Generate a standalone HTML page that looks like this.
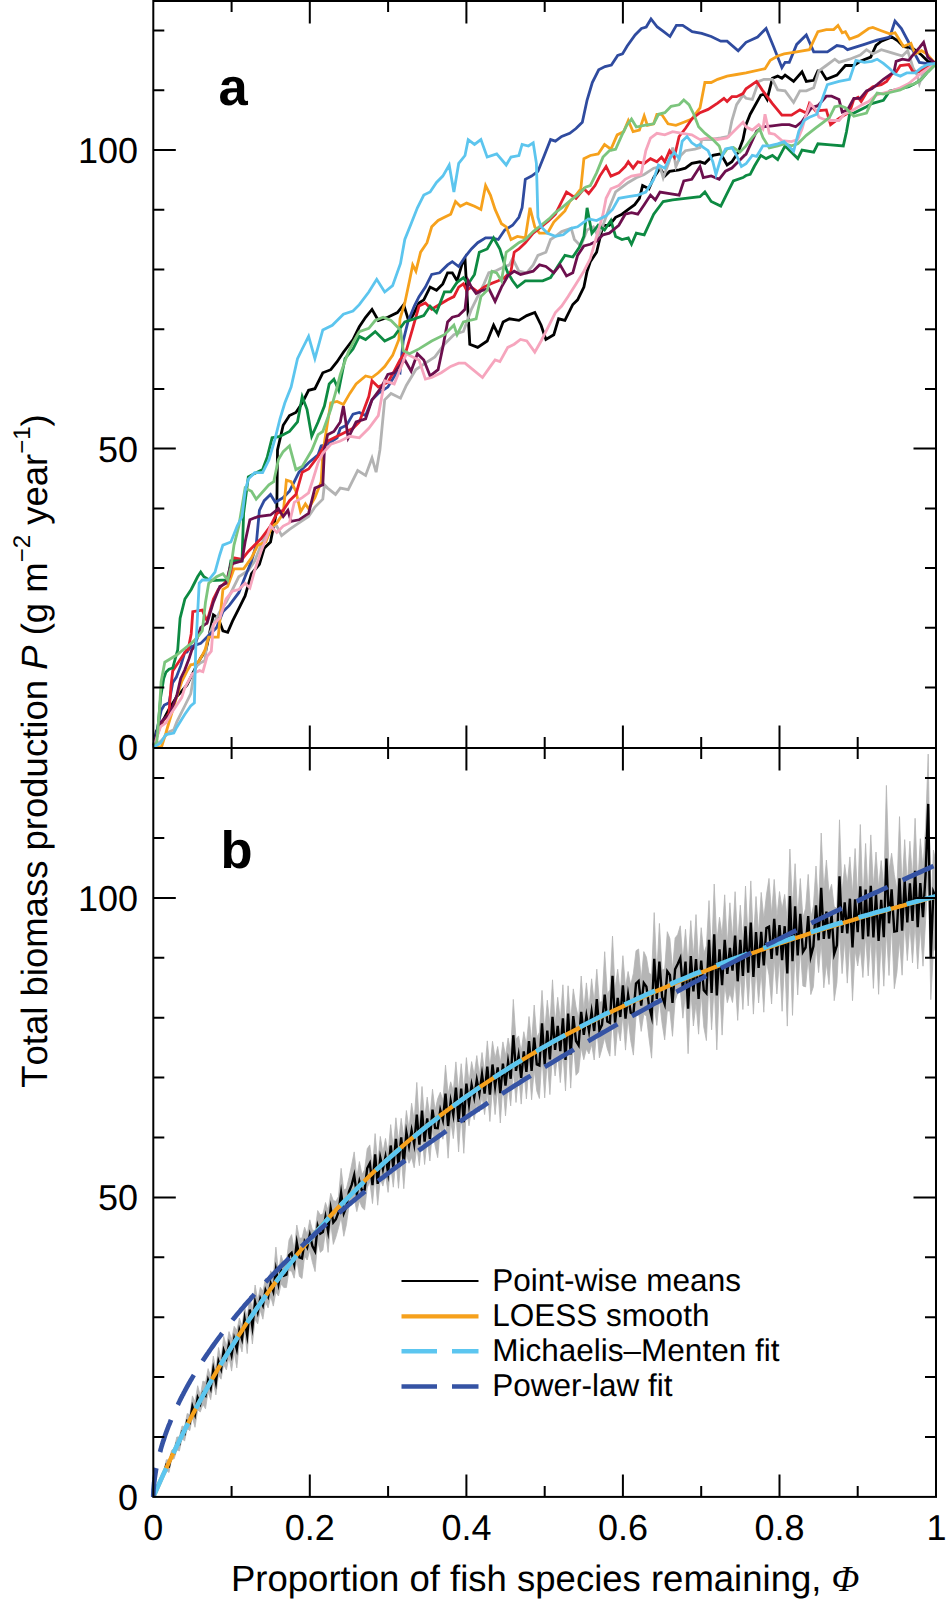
<!DOCTYPE html>
<html lang="en"><head><meta charset="utf-8"><title>Figure</title>
<style>html,body{margin:0;padding:0;background:#fff}body{width:946px;height:1602px;overflow:hidden}</style></head>
<body>
<svg width="946" height="1602" viewBox="0 0 946 1602" style="display:block">
<rect x="0" y="0" width="946" height="1602" fill="#fff"/>
<g id="panel-b-data">
<path d="M153.3,1496.9 L155.9,1488.9 L158.5,1484.1 L161.1,1476.2 L163.7,1471.7 L166.3,1459.7 L169,1459.9 L171.6,1450.2 L174.2,1448.5 L176.8,1437 L179.4,1436.9 L182,1426 L184.6,1426.7 L187.2,1413.5 L189.8,1414.7 L192.4,1395.9 L195,1401.8 L197.7,1385.7 L200.3,1395.5 L202.9,1381 L205.5,1382.3 L208.1,1368.6 L210.7,1376.5 L213.3,1356.1 L215.9,1369.6 L218.5,1347.5 L221.1,1358.4 L223.7,1336.4 L226.4,1346.1 L229,1331.6 L231.6,1339.2 L234.2,1326.3 L236.8,1330.5 L239.4,1318 L242,1326.1 L244.6,1306.9 L247.2,1317.1 L249.8,1296 L252.4,1309.8 L255.1,1285 L257.7,1300.2 L260.3,1287.3 L262.9,1291.2 L265.5,1278.5 L268.1,1285.2 L270.7,1270.8 L273.3,1276.7 L275.9,1247.1 L278.5,1272 L281.1,1255.2 L283.8,1263.8 L286.4,1261.7 L289,1240 L291.6,1234.6 L294.2,1250.1 L296.8,1225 L299.4,1238.2 L302,1238.1 L304.6,1227.2 L307.2,1234.3 L309.8,1219.8 L312.4,1229.9 L315.1,1230.8 L317.7,1210.5 L320.3,1214.9 L322.9,1214 L325.5,1202.5 L328.1,1210.4 L330.7,1193.3 L333.3,1200.5 L335.9,1201.3 L338.5,1196.6 L341.1,1168.3 L343.8,1190.1 L346.4,1188.6 L349,1177.5 L351.6,1165.1 L354.2,1151.9 L356.8,1177 L359.4,1161.5 L362,1174.6 L364.6,1169.8 L367.2,1148.8 L369.8,1144.9 L372.5,1166.8 L375.1,1133.6 L377.7,1162.7 L380.3,1136.4 L382.9,1152.3 L385.5,1138.4 L388.1,1153.1 L390.7,1124.6 L393.3,1148.2 L395.9,1117.8 L398.5,1141.8 L401.2,1118.3 L403.8,1137.8 L406.4,1110.5 L409,1128.9 L411.6,1103.2 L414.2,1120.1 L416.8,1082.4 L419.4,1123.6 L422,1086.5 L424.6,1118.7 L427.2,1097.1 L429.9,1116.8 L432.5,1089.2 L435.1,1110.2 L437.7,1098.6 L440.3,1092.2 L442.9,1100.3 L445.5,1065.1 L448.1,1093.8 L450.7,1081.8 L453.3,1090.9 L455.9,1061.9 L458.6,1091.7 L461.2,1063.7 L463.8,1090.9 L466.4,1057.6 L469,1082.8 L471.6,1061.6 L474.2,1074.9 L476.8,1055.6 L479.4,1074.7 L482,1052.5 L484.6,1072.6 L487.3,1040.9 L489.9,1067.8 L492.5,1041.3 L495.1,1058.3 L497.7,1046.5 L500.3,1063.1 L502.9,1041.9 L505.5,1055.5 L508.1,1038 L510.7,1051.4 L513.3,999.4 L516,1039.2 L518.6,1035.9 L521.2,1051.5 L523.8,1031.7 L526.4,1044.7 L529,1016.5 L531.6,1041.8 L534.2,1005 L536.8,1037.4 L539.4,1032.3 L542,990.4 L544.7,1030.8 L547.3,1000.2 L549.9,1024.2 L552.5,979.8 L555.1,1023.8 L557.7,997.3 L560.3,1019.8 L562.9,984.8 L565.5,1029.1 L568.1,985.8 L570.7,1020.7 L573.3,988.9 L576,1006.7 L578.6,1018.2 L581.2,976 L583.8,1010 L586.4,982.9 L589,1008.4 L591.6,978.8 L594.2,1002 L596.8,969.2 L599.4,1002.3 L602,1001.6 L604.7,951.7 L607.3,994.1 L609.9,989.6 L612.5,936.1 L615.1,989.3 L617.7,969.2 L620.3,992.9 L622.9,955.7 L625.5,987.1 L628.1,971.5 L630.7,985 L633.4,973.2 L636,950.7 L638.6,949 L641.2,979.7 L643.8,951.6 L646.4,957.2 L649,973.1 L651.6,974.8 L654.2,912.6 L656.8,972.3 L659.4,923.4 L662.1,970 L664.7,968.8 L667.3,931.7 L669.9,938.6 L672.5,969.6 L675.1,937.9 L677.7,934.6 L680.3,925.8 L682.9,960.3 L685.5,929.3 L688.1,963.9 L690.8,920.6 L693.4,956.7 L696,914.6 L698.6,963.7 L701.2,927.7 L703.8,953.5 L706.4,945.8 L709,900.6 L711.6,956.2 L714.2,884 L716.8,941.2 L719.5,917.2 L722.1,935.2 L724.7,894.8 L727.3,944.9 L729.9,902.8 L732.5,938.8 L735.1,891.7 L737.7,942.1 L740.3,905.2 L742.9,942.6 L745.5,886 L748.2,939.3 L750.8,880.9 L753.4,939.7 L756,896.5 L758.6,933 L761.2,892.4 L763.8,918.5 L766.4,895.1 L769,878.4 L771.6,914.1 L774.2,879.4 L776.9,917 L779.5,891.5 L782.1,909.1 L784.7,894.4 L787.3,920.8 L789.9,849 L792.5,907.1 L795.1,863.7 L797.7,915.9 L800.3,878.5 L802.9,917.8 L805.6,908.2 L808.2,874.4 L810.8,918 L813.4,906.1 L816,866 L818.6,908 L821.2,833 L823.8,889.9 L826.4,860 L829,892.7 L831.6,884.3 L834.2,906.8 L836.9,908.3 L839.5,819.8 L842.1,892.5 L844.7,864.5 L847.3,883.8 L849.9,856.9 L852.5,894.1 L855.1,848.5 L857.7,898.4 L860.3,824.5 L862.9,901.1 L865.6,843.5 L868.2,897 L870.8,834.9 L873.4,886.7 L876,852 L878.6,887.6 L881.2,860.6 L883.8,887.9 L886.4,785.4 L889,871.2 L891.6,853.2 L894.3,874.5 L896.9,889.6 L899.5,816.6 L902.1,886.5 L904.7,839.6 L907.3,884.4 L909.9,841.2 L912.5,878.9 L915.1,818.3 L917.7,885.7 L920.3,838.7 L923,868.1 L925.6,827 L928.2,754.1 L930.8,915.9 L933.4,850 L936,862 L936,945.8 L933.4,951.8 L930.8,999.7 L928.2,873.9 L925.6,920.7 L923,966.2 L920.3,927.6 L917.7,968.9 L915.1,923.1 L912.5,962.9 L909.9,925.5 L907.3,960.6 L904.7,922.6 L902.1,975.2 L899.5,940.3 L896.9,972.4 L894.3,988.7 L891.6,925.7 L889,975.5 L886.4,931.6 L883.8,986.2 L881.2,939 L878.6,994.3 L876,936.7 L873.4,988.4 L870.8,936.8 L868.2,975.9 L865.6,935.5 L862.9,977.5 L860.3,947.9 L857.7,966 L855.1,950.3 L852.5,1000.7 L849.9,940.5 L847.3,983.1 L844.7,940.1 L842.1,973.6 L839.5,932.9 L836.9,982.5 L834.2,1000.7 L831.6,945.7 L829,984.5 L826.4,963.3 L823.8,987.8 L821.2,942.3 L818.6,972.6 L816,944.7 L813.4,986.7 L810.8,994.6 L808.2,957.8 L805.6,986.9 L802.9,986 L800.3,949.1 L797.7,995 L795.1,949.2 L792.5,1015.4 L789.9,942.9 L787.3,1026.1 L784.7,958 L782.1,1011.3 L779.5,959 L776.9,994 L774.2,958.5 L771.6,1004 L769,975.1 L766.4,960.9 L763.8,1012.2 L761.2,971.2 L758.6,1003 L756,967.5 L753.4,1014.1 L750.8,964.3 L748.2,1005.9 L745.5,966.7 L742.9,1009.5 L740.3,974.5 L737.7,1020.4 L735.1,979.5 L732.5,1002.5 L729.9,993 L727.3,1002.7 L724.7,984.7 L722.1,1035.1 L719.5,981.6 L716.8,1049.9 L714.2,984.8 L711.6,1029.8 L709,978.7 L706.4,1040.6 L703.8,1027.1 L701.2,993.3 L698.6,1034.2 L696,1003.6 L693.4,1026 L690.8,991.3 L688.1,1053.7 L685.5,993.7 L682.9,1018.2 L680.3,990.1 L677.7,993.3 L675.1,1000.7 L672.5,1036.3 L669.9,1011.1 L667.3,1010.9 L664.7,1039.9 L662.1,1023.6 L659.4,999.9 L656.8,1025.4 L654.2,1005.3 L651.6,1058.2 L649,1038.4 L646.4,1015.9 L643.8,1014.3 L641.2,1031.4 L638.6,1013 L636,1016.3 L633.4,1055.1 L630.7,1040.4 L628.1,1018.2 L625.5,1050.1 L622.9,1015.2 L620.3,1041 L617.7,1026.7 L615.1,1055.8 L612.5,1015.7 L609.9,1056.2 L607.3,1048.9 L604.7,1037.6 L602,1048.5 L599.4,1057.9 L596.8,1029 L594.2,1060 L591.6,1044.6 L589,1053.9 L586.4,1048.9 L583.8,1059.7 L581.2,1047.8 L578.6,1072.1 L576,1075.3 L573.3,1043.4 L570.7,1088.1 L568.1,1041.4 L565.5,1090.9 L562.9,1052 L560.3,1082.6 L557.7,1054.3 L555.1,1076 L552.5,1054.1 L549.9,1094.6 L547.3,1060.8 L544.7,1097.9 L542,1056.3 L539.4,1098.5 L536.8,1091.1 L534.2,1070.1 L531.6,1099.8 L529,1065.6 L526.4,1098.9 L523.8,1071.1 L521.2,1104.1 L518.6,1074.7 L516,1102.5 L513.3,1070.9 L510.7,1105.9 L508.1,1085.7 L505.5,1115.9 L502.9,1085.3 L500.3,1123 L497.7,1088.2 L495.1,1114.6 L492.5,1087.6 L489.9,1121.5 L487.3,1092.6 L484.6,1114.6 L482,1096.2 L479.4,1112 L476.8,1104 L474.2,1119.7 L471.6,1108 L469,1125.8 L466.4,1109.7 L463.8,1153.3 L461.2,1113.5 L458.6,1151.9 L455.9,1113.3 L453.3,1138.6 L450.7,1120.7 L448.1,1158.2 L445.5,1122.3 L442.9,1139.2 L440.3,1128 L437.7,1157.7 L435.1,1145.8 L432.5,1129.9 L429.9,1161 L427.2,1139.8 L424.6,1164.5 L422,1134.8 L419.4,1165.7 L416.8,1147.1 L414.2,1167.8 L411.6,1157.4 L409,1163.3 L406.4,1154.4 L403.8,1188.7 L401.2,1156.6 L398.5,1188.3 L395.9,1160 L393.3,1187.2 L390.7,1166.3 L388.1,1192.4 L385.5,1174.8 L382.9,1186.1 L380.3,1179 L377.7,1205.2 L375.1,1175.3 L372.5,1203.6 L369.8,1181.7 L367.2,1187.9 L364.6,1209.9 L362,1207.4 L359.4,1200.8 L356.8,1211.6 L354.2,1198.6 L351.6,1205.1 L349,1205.7 L346.4,1224.8 L343.8,1236.3 L341.1,1217.4 L338.5,1227.8 L335.9,1237.1 L333.3,1244.4 L330.7,1223 L328.1,1252.4 L325.5,1231.3 L322.9,1250.1 L320.3,1252.4 L317.7,1241.1 L315.1,1271.6 L312.4,1262.3 L309.8,1250.1 L307.2,1260 L304.6,1256.2 L302,1278.6 L299.4,1276.4 L296.8,1260.2 L294.2,1278.2 L291.6,1271.2 L289,1270.5 L286.4,1287.5 L283.8,1287.6 L281.1,1283.8 L278.5,1296 L275.9,1292.2 L273.3,1306.1 L270.7,1296.5 L268.1,1307.9 L265.5,1302 L262.9,1319.2 L260.3,1310.2 L257.7,1323.9 L255.1,1319.4 L252.4,1344 L249.8,1323 L247.2,1353.6 L244.6,1331.1 L242,1352 L239.4,1342.3 L236.8,1367.9 L234.2,1351.7 L231.6,1371.1 L229,1357 L226.4,1369.9 L223.7,1364.6 L221.1,1379.2 L218.5,1375.1 L215.9,1394.9 L213.3,1382.2 L210.7,1399.7 L208.1,1391.9 L205.5,1408.8 L202.9,1404.5 L200.3,1412 L197.7,1409.9 L195,1427.3 L192.4,1417.3 L189.8,1430.7 L187.2,1428.4 L184.6,1441.1 L182,1438.5 L179.4,1451 L176.8,1449.9 L174.2,1458.8 L171.6,1459.4 L169,1472.6 L166.3,1470.3 L163.7,1477.2 L161.1,1480.5 L158.5,1487.2 L155.9,1491.6 L153.3,1496.9Z" fill="#b5b5b5" stroke="#b5b5b5" stroke-width="0.8" stroke-linejoin="miter"/>
<polyline fill="none" stroke="#000" stroke-width="2.4" stroke-linejoin="miter" stroke-miterlimit="8" points="153.3,1496.9 155.9,1490.2 158.5,1485.6 161.1,1478.4 163.7,1474.4 166.3,1465 169,1466.2 171.6,1454.8 174.2,1453.6 176.8,1443.5 179.4,1444 182,1432.2 184.6,1433.9 187.2,1421 189.8,1422.7 192.4,1406.6 195,1414.5 197.7,1397.8 200.3,1403.8 202.9,1392.8 205.5,1395.5 208.1,1380.2 210.7,1388.1 213.3,1369.2 215.9,1382.3 218.5,1361.3 221.1,1368.8 223.7,1350.5 226.4,1358 229,1344.3 231.6,1355.2 234.2,1339 236.8,1349.2 239.4,1330.2 242,1339 244.6,1319 247.2,1335.4 249.8,1309.5 252.4,1326.9 255.1,1302.2 257.7,1312.1 260.3,1298.8 262.9,1305.2 265.5,1290.3 268.1,1296.5 270.7,1283.7 273.3,1291.4 275.9,1269.6 278.5,1284 281.1,1269.5 283.8,1275.7 286.4,1274.6 289,1255.3 291.6,1252.9 294.2,1264.1 296.8,1242.6 299.4,1257.3 302,1258.4 304.6,1241.7 307.2,1247.2 309.8,1234.9 312.4,1246.1 315.1,1251.2 317.7,1225.8 320.3,1233.6 322.9,1232 325.5,1216.9 328.1,1231.4 330.7,1208.2 333.3,1222.4 335.9,1219.2 338.5,1212.2 341.1,1192.9 343.8,1213.2 346.4,1206.7 349,1191.6 351.6,1185.1 354.2,1175.2 356.8,1194.3 359.4,1181.2 362,1191 364.6,1189.9 367.2,1168.3 369.8,1163.3 372.5,1185.2 375.1,1154.4 377.7,1184 380.3,1157.7 382.9,1169.2 385.5,1156.6 388.1,1172.8 390.7,1145.5 393.3,1167.7 395.9,1138.9 398.5,1165.1 401.2,1137.4 403.8,1163.3 406.4,1132.4 409,1146.1 411.6,1130.3 414.2,1144 416.8,1114.7 419.4,1144.7 422,1110.6 424.6,1141.6 427.2,1118.4 429.9,1138.9 432.5,1109.6 435.1,1128 437.7,1128.2 440.3,1110.1 442.9,1119.8 445.5,1093.7 448.1,1126 450.7,1101.2 453.3,1114.8 455.9,1087.6 458.6,1121.8 461.2,1088.6 463.8,1122.1 466.4,1083.7 469,1104.3 471.6,1084.8 474.2,1097.3 476.8,1079.8 479.4,1093.3 482,1074.3 484.6,1093.6 487.3,1066.7 489.9,1094.6 492.5,1064.5 495.1,1086.4 497.7,1067.3 500.3,1093.1 502.9,1063.6 505.5,1085.7 508.1,1061.8 510.7,1078.7 513.3,1035.2 516,1070.8 518.6,1055.3 521.2,1077.8 523.8,1051.4 526.4,1071.8 529,1041 531.6,1070.8 534.2,1037.5 536.8,1064.3 539.4,1065.4 542,1023.4 544.7,1064.3 547.3,1030.5 549.9,1059.4 552.5,1016.9 555.1,1049.9 557.7,1025.8 560.3,1051.2 562.9,1018.4 565.5,1060 568.1,1013.6 570.7,1054.4 573.3,1016.1 576,1041 578.6,1045.2 581.2,1011.9 583.8,1034.9 586.4,1015.9 589,1031.1 591.6,1011.7 594.2,1031 596.8,999.1 599.4,1030.1 602,1025 604.7,994.7 607.3,1021.5 609.9,1022.9 612.5,975.9 615.1,1022.6 617.7,998 620.3,1017 622.9,985.4 625.5,1018.6 628.1,994.9 630.7,1012.7 633.4,1014.2 636,983.5 638.6,981 641.2,1005.5 643.8,983 646.4,986.6 649,1005.7 651.6,1016.5 654.2,958.9 656.8,998.9 659.4,961.6 662.1,996.8 664.7,1004.3 667.3,971.3 669.9,974.9 672.5,1003 675.1,969.3 677.7,963.9 680.3,958 682.9,989.2 685.5,961.5 688.1,1008.8 690.8,956 693.4,991.3 696,959.1 698.6,998.9 701.2,960.5 703.8,990.3 706.4,993.2 709,939.7 711.6,993 714.2,934.4 716.8,995.5 719.5,949.4 722.1,985.1 724.7,939.8 727.3,973.8 729.9,947.9 732.5,970.7 735.1,935.6 737.7,981.3 740.3,939.9 742.9,976 745.5,926.4 748.2,972.6 750.8,922.6 753.4,976.9 756,932 758.6,968 761.2,931.8 763.8,965.4 766.4,928 769,926.7 771.6,959 774.2,918.9 776.9,955.5 779.5,925.2 782.1,960.2 784.7,926.2 787.3,973.4 789.9,896 792.5,961.3 795.1,906.4 797.7,955.5 800.3,913.8 802.9,951.9 805.6,947.5 808.2,916.1 810.8,956.3 813.4,946.4 816,905.4 818.6,940.3 821.2,887.7 823.8,938.9 826.4,911.6 829,938.6 831.6,915 834.2,953.8 836.9,945.4 839.5,876.3 842.1,933 844.7,902.3 847.3,933.5 849.9,898.7 852.5,947.4 855.1,899.4 857.7,932.2 860.3,886.2 862.9,939.3 865.6,889.5 868.2,936.4 870.8,885.9 873.4,937.5 876,894.4 878.6,940.9 881.2,899.8 883.8,937.1 886.4,858.5 889,923.3 891.6,889.4 894.3,931.6 896.9,931 899.5,878.4 902.1,930.8 904.7,881.1 907.3,922.5 909.9,883.3 912.5,920.9 915.1,870.7 917.7,927.3 920.3,883.1 923,917.1 925.6,873.9 928.2,803.9 930.8,957.8 933.4,891.9 936,897.9"/>
<polyline fill="none" stroke="#f6a11c" stroke-width="4.2" points="153.3,1496.9 158.2,1485.8 163.1,1474.9 168,1464.3 172.9,1454 177.8,1443.9 182.7,1434 187.5,1424.4 192.4,1415 197.3,1405.8 202.2,1396.8 207.1,1388 212,1379.3 216.9,1370.9 221.8,1362.7 226.7,1354.6 231.6,1346.7 236.5,1338.9 241.4,1331.3 246.2,1323.9 251.1,1316.6 256,1309.5 260.9,1302.5 265.8,1295.6 270.7,1288.8 275.6,1282.2 280.5,1275.7 285.4,1269.4 290.3,1263.1 295.2,1257 300.1,1251 304.9,1245.1 309.8,1239.3 314.7,1233.6 319.6,1228 324.5,1222.5 329.4,1217 334.3,1211.7 339.2,1206.5 344.1,1201.4 349,1196.3 353.9,1191.3 358.8,1186.5 363.7,1181.7 368.5,1176.9 373.4,1172.3 378.3,1167.7 383.2,1163.2 388.1,1158.8 393,1154.4 397.9,1150.1 402.8,1145.9 407.7,1141.7 412.6,1137.6 417.5,1133.6 422.4,1129.6 427.2,1125.7 432.1,1121.8 437,1118 441.9,1114.3 446.8,1110.6 451.7,1107 456.6,1103.4 461.5,1099.9 466.4,1096.4 471.3,1092.9 476.2,1089.6 481.1,1086.2 485.9,1082.9 490.8,1079.7 495.7,1076.5 500.6,1073.3 505.5,1070.2 510.4,1067.1 515.3,1064.1 520.2,1061.1 525.1,1058.2 530,1055.3 534.9,1052.4 539.8,1049.5 544.7,1046.7 549.5,1044 554.4,1041.2 559.3,1038.5 564.2,1035.9 569.1,1033.2 574,1030.6 578.9,1028.1 583.8,1025.5 588.7,1023 593.6,1020.6 598.5,1018.1 603.4,1015.7 608.2,1013.3 613.1,1010.9 618,1008.6 622.9,1006.3 627.8,1004 632.7,1001.7 637.6,999.5 642.5,997.3 647.4,995.1 652.3,992.9 657.2,990.8 662.1,988.7 666.9,986.6 671.8,984.5 676.7,982.5 681.6,980.4 686.5,978.4 691.4,976.4 696.3,974.4 701.2,972.5 706.1,970.6 711,968.6 715.9,966.7 720.8,964.9 725.6,963 730.5,961.2 735.4,959.3 740.3,957.5 745.2,955.7 750.1,953.9 755,952.2 759.9,950.4 764.8,948.7 769.7,947 774.6,945.3 779.5,943.6 784.4,941.9 789.2,940.3 794.1,938.6 799,937 803.9,935.4 808.8,933.8 813.7,932.2 818.6,930.6 823.5,929.1 828.4,927.5 833.3,926 838.2,924.5 843.1,923 847.9,921.5 852.8,920 857.7,918.5 862.6,917.1 867.5,915.6 872.4,914.2 877.3,912.8 882.2,911.4 887.1,910 892,908.6 896.9,907.2 901.8,905.9 906.6,904.5 911.5,903.2 916.4,901.9 921.3,900.6 926.2,899.3 931.1,898 936,896.7"/>
<polyline fill="none" stroke="#5cc6f0" stroke-width="4.7" stroke-dasharray="33.5 16.5" stroke-dashoffset="2" points="153.3,1496.9 158.2,1485.8 163.1,1474.9 168,1464.3 172.9,1454 177.8,1443.9 182.7,1434 187.5,1424.4 192.4,1415 197.3,1405.8 202.2,1396.8 207.1,1388 212,1379.4 216.9,1371 221.8,1362.7 226.7,1354.7 231.6,1346.8 236.5,1339 241.4,1331.4 246.2,1324 251.1,1316.7 256,1309.6 260.9,1302.6 265.8,1295.7 270.7,1289 275.6,1282.4 280.5,1275.9 285.4,1269.6 290.3,1263.3 295.2,1257.2 300.1,1251.2 304.9,1245.3 309.8,1239.5 314.7,1233.8 319.6,1228.2 324.5,1222.7 329.4,1217.3 334.3,1212 339.2,1206.8 344.1,1201.6 349,1196.6 353.9,1191.6 358.8,1186.8 363.7,1182 368.5,1177.2 373.4,1172.6 378.3,1168 383.2,1163.5 388.1,1159.1 393,1154.7 397.9,1150.4 402.8,1146.2 407.7,1142 412.6,1137.9 417.5,1133.9 422.4,1129.9 427.2,1125.9 432.1,1122.1 437,1118.3 441.9,1114.5 446.8,1110.8 451.7,1107.2 456.6,1103.6 461.5,1100 466.4,1096.5 471.3,1093.1 476.2,1089.6 481.1,1086.3 485.9,1083 490.8,1079.7 495.7,1076.5 500.6,1073.3 505.5,1070.2 510.4,1067.1 515.3,1064 520.2,1061 525.1,1058 530,1055.1 534.9,1052.2 539.8,1049.3 544.7,1046.5 549.5,1043.7 554.4,1040.9 559.3,1038.2 564.2,1035.5 569.1,1032.8 574,1030.2 578.9,1027.6 583.8,1025 588.7,1022.5 593.6,1020 598.5,1017.5 603.4,1015 608.2,1012.6 613.1,1010.2 618,1007.8 622.9,1005.5 627.8,1003.2 632.7,1000.9 637.6,998.6 642.5,996.4 647.4,994.2 652.3,992 657.2,989.8 662.1,987.7 666.9,985.6 671.8,983.5 676.7,981.4 681.6,979.4 686.5,977.3 691.4,975.3 696.3,973.3 701.2,971.4 706.1,969.4 711,967.5 715.9,965.6 720.8,963.7 725.6,961.9 730.5,960 735.4,958.2 740.3,956.4 745.2,954.6 750.1,952.8 755,951 759.9,949.3 764.8,947.6 769.7,945.9 774.6,944.2 779.5,942.5 784.4,940.8 789.2,939.2 794.1,937.6 799,936 803.9,934.4 808.8,932.8 813.7,931.2 818.6,929.7 823.5,928.1 828.4,926.6 833.3,925.1 838.2,923.6 843.1,922.1 847.9,920.7 852.8,919.2 857.7,917.8 862.6,916.3 867.5,914.9 872.4,913.5 877.3,912.1 882.2,910.7 887.1,909.4 892,908 896.9,906.7 901.8,905.3 906.6,904 911.5,902.7 916.4,901.4 921.3,900.1 926.2,898.8 931.1,897.6 936,896.3"/>
<polyline fill="none" stroke="#3553a4" stroke-width="4.7" stroke-dasharray="34 16.5" stroke-dashoffset="5" points="153.3,1496.9 153.3,1496.1 153.3,1495.2 153.3,1494.2 153.4,1493.1 153.4,1492.1 153.5,1491 153.5,1489.9 153.6,1488.7 153.7,1487.6 153.8,1486.4 153.9,1485.3 154,1484.1 154.1,1482.9 154.3,1481.7 154.4,1480.5 154.6,1479.3 154.7,1478 154.9,1476.8 155.1,1475.6 155.3,1474.3 155.5,1473 155.7,1471.8 155.9,1470.5 156.1,1469.2 156.4,1467.9 156.6,1466.7 156.9,1465.4 157.1,1464.1 157.4,1462.8 157.7,1461.4 158,1460.1 158.3,1458.8 158.6,1457.5 159,1456.1 159.3,1454.8 159.6,1453.5 160,1452.1 160.4,1450.8 160.7,1449.4 161.1,1448.1 161.5,1446.7 161.9,1445.3 162.3,1444 162.8,1442.6 163.2,1441.2 163.7,1439.9 164.1,1438.5 164.6,1437.1 165,1435.7 165.5,1434.3 166,1432.9 166.5,1431.5 167,1430.1 167.6,1428.7 168.1,1427.3 168.6,1425.9 169.2,1424.5 169.8,1423.1 170.3,1421.7 170.9,1420.3 171.5,1418.8 172.1,1417.4 172.7,1416 173.3,1414.6 174,1413.1 174.6,1411.7 175.3,1410.2 175.9,1408.8 176.6,1407.4 177.3,1405.9 178,1404.5 178.7,1403 179.4,1401.6 180.1,1400.1 180.8,1398.7 181.6,1397.2 182.3,1395.7 183.1,1394.3 183.8,1392.8 184.6,1391.4 185.4,1389.9 186.2,1388.4 187,1386.9 187.8,1385.5 188.6,1384 189.5,1382.5 190.3,1381 191.2,1379.6 192,1378.1 192.9,1376.6 193.8,1375.1 194.7,1373.6 195.6,1372.1 196.5,1370.6 197.4,1369.1 198.4,1367.6 199.3,1366.1 200.3,1364.6 201.2,1363.1 202.2,1361.6 203.2,1360.1 204.2,1358.6 205.2,1357.1 206.2,1355.6 207.2,1354.1 208.3,1352.6 209.3,1351.1 210.4,1349.5 211.4,1348 212.5,1346.5 213.6,1345 214.7,1343.5 215.8,1341.9 216.9,1340.4 218,1338.9 219.1,1337.4 220.3,1335.8 221.4,1334.3 222.6,1332.8 223.7,1331.2 224.9,1329.7 226.1,1328.2 227.3,1326.6 228.5,1325.1 229.7,1323.5 231,1322 232.2,1320.5 233.4,1318.9 234.7,1317.4 236,1315.8 237.2,1314.3 238.5,1312.7 239.8,1311.2 241.1,1309.6 242.5,1308 243.8,1306.5 245.1,1304.9 246.5,1303.4 247.8,1301.8 249.2,1300.3 250.6,1298.7 251.9,1297.1 253.3,1295.6 254.7,1294 256.2,1292.4 257.6,1290.9 259,1289.3 260.5,1287.7 261.9,1286.1 263.4,1284.6 264.8,1283 266.3,1281.4 267.8,1279.8 269.3,1278.3 270.8,1276.7 272.3,1275.1 273.9,1273.5 275.4,1271.9 277,1270.4 278.5,1268.8 280.1,1267.2 281.7,1265.6 283.3,1264 284.9,1262.4 286.5,1260.8 288.1,1259.2 289.7,1257.7 291.4,1256.1 293,1254.5 294.7,1252.9 296.3,1251.3 298,1249.7 299.7,1248.1 301.4,1246.5 303.1,1244.9 304.8,1243.3 306.6,1241.7 308.3,1240.1 310,1238.5 311.8,1236.9 313.6,1235.2 315.3,1233.6 317.1,1232 318.9,1230.4 320.7,1228.8 322.5,1227.2 324.4,1225.6 326.2,1224 328,1222.4 329.9,1220.7 331.8,1219.1 333.6,1217.5 335.5,1215.9 337.4,1214.3 339.3,1212.6 341.2,1211 343.1,1209.4 345.1,1207.8 347,1206.2 349,1204.5 350.9,1202.9 352.9,1201.3 354.9,1199.6 356.9,1198 358.9,1196.4 360.9,1194.8 362.9,1193.1 364.9,1191.5 367,1189.9 369,1188.2 371.1,1186.6 373.2,1185 375.2,1183.3 377.3,1181.7 379.4,1180 381.5,1178.4 383.7,1176.8 385.8,1175.1 387.9,1173.5 390.1,1171.8 392.2,1170.2 394.4,1168.6 396.6,1166.9 398.8,1165.3 401,1163.6 403.2,1162 405.4,1160.3 407.6,1158.7 409.8,1157 412.1,1155.4 414.3,1153.7 416.6,1152.1 418.9,1150.4 421.2,1148.8 423.5,1147.1 425.8,1145.4 428.1,1143.8 430.4,1142.1 432.7,1140.5 435.1,1138.8 437.4,1137.2 439.8,1135.5 442.2,1133.8 444.5,1132.2 446.9,1130.5 449.3,1128.8 451.7,1127.2 454.2,1125.5 456.6,1123.9 459,1122.2 461.5,1120.5 464,1118.9 466.4,1117.2 468.9,1115.5 471.4,1113.8 473.9,1112.2 476.4,1110.5 478.9,1108.8 481.5,1107.2 484,1105.5 486.5,1103.8 489.1,1102.1 491.7,1100.5 494.2,1098.8 496.8,1097.1 499.4,1095.4 502,1093.7 504.7,1092.1 507.3,1090.4 509.9,1088.7 512.6,1087 515.2,1085.3 517.9,1083.7 520.6,1082 523.2,1080.3 525.9,1078.6 528.6,1076.9 531.4,1075.2 534.1,1073.5 536.8,1071.9 539.6,1070.2 542.3,1068.5 545.1,1066.8 547.9,1065.1 550.6,1063.4 553.4,1061.7 556.2,1060 559.1,1058.3 561.9,1056.6 564.7,1054.9 567.5,1053.3 570.4,1051.6 573.3,1049.9 576.1,1048.2 579,1046.5 581.9,1044.8 584.8,1043.1 587.7,1041.4 590.6,1039.7 593.6,1038 596.5,1036.3 599.5,1034.6 602.4,1032.9 605.4,1031.2 608.4,1029.5 611.4,1027.8 614.4,1026 617.4,1024.3 620.4,1022.6 623.4,1020.9 626.4,1019.2 629.5,1017.5 632.6,1015.8 635.6,1014.1 638.7,1012.4 641.8,1010.7 644.9,1009 648,1007.2 651.1,1005.5 654.2,1003.8 657.4,1002.1 660.5,1000.4 663.7,998.7 666.8,997 670,995.2 673.2,993.5 676.4,991.8 679.6,990.1 682.8,988.4 686,986.7 689.3,984.9 692.5,983.2 695.8,981.5 699,979.8 702.3,978.1 705.6,976.3 708.9,974.6 712.2,972.9 715.5,971.2 718.8,969.4 722.1,967.7 725.5,966 728.8,964.3 732.2,962.5 735.6,960.8 738.9,959.1 742.3,957.3 745.7,955.6 749.1,953.9 752.6,952.2 756,950.4 759.4,948.7 762.9,947 766.3,945.2 769.8,943.5 773.3,941.8 776.8,940 780.3,938.3 783.8,936.6 787.3,934.8 790.8,933.1 794.4,931.3 797.9,929.6 801.5,927.9 805,926.1 808.6,924.4 812.2,922.7 815.8,920.9 819.4,919.2 823,917.4 826.6,915.7 830.3,913.9 833.9,912.2 837.6,910.5 841.2,908.7 844.9,907 848.6,905.2 852.3,903.5 856,901.7 859.7,900 863.4,898.2 867.1,896.5 870.9,894.7 874.6,893 878.4,891.3 882.2,889.5 886,887.8 889.7,886 893.5,884.2 897.4,882.5 901.2,880.7 905,879 908.8,877.2 912.7,875.5 916.6,873.7 920.4,872 924.3,870.2 928.2,868.5 932.1,866.7 936,865"/>
</g>
<g id="panel-a-data" fill="none" stroke-width="2.8" stroke-linejoin="miter">
<polyline stroke="#000000" points="153.4,747.3 156.3,731.4 161.2,724 169,709.2 176.8,696.5 180.7,692.3 187,684.9 191.2,676.4 196.5,665.9 200.7,657.9 206,650 213.4,614.9 218.2,618.1 222.9,630.8 227.7,632.3 232.5,621.2 238.8,608.6 245.1,595.9 251.5,573.7 259.4,564.2 264.2,548.3 270.5,542 276.8,510.3 277.5,450 283.2,425.2 289.5,415.6 295.9,412.5 302.2,403 308.6,390.3 314.9,388.7 322.8,372.8 330.8,369.7 337.1,361.7 343.4,352.2 353,339.5 359.3,326.8 365.6,317.3 372,309.4 378.3,320.5 387.8,317.3 397.4,312.6 403.7,304.7 408.5,320.5 412.7,315.6 419,303 423.8,299.8 430.1,287.1 436.5,290.3 442.8,283.9 447.6,272.8 452.3,272.8 457.1,280.8 461.8,264.9 465,258.6 468.2,315.6 469.8,344.2 477.7,347.4 487.2,341 493.6,325.2 498.3,334.7 503.1,322 509.4,318.8 518.9,320.4 526.8,315.6 534.8,312.5 541.1,325.2 545.9,339.4 553.8,334.7 558.6,318.8 564.9,320.4 572.8,304.5 577.6,299.8 583.9,287.1 587.1,271.2 590.3,261.7 596.6,252.2 603,225.3 609.3,225.3 615.6,217.3 622,214.2 628.3,209.4 634.7,204.7 639.4,198.3 642.6,185.6 648.9,188.8 653.7,177.7 660,168.2 664.8,176.1 669.6,171.4 679.1,169.8 685.4,168.2 691.8,163.4 700,161.8 704.9,163.3 712.8,155.4 720.8,153.8 727.1,164.9 731.9,161.7 738.2,152.2 743,139.5 746,124.7 750.2,114.2 760.8,95.1 764,94.1 767.1,99.4 772.4,78.2 777.7,76.1 781.9,78.2 785.1,75.1 793.6,81.4 802,71.9 806.3,81.4 813.7,80.3 817.9,70.8 821.1,70.8 826.3,79.3 836.9,75.1 845.4,65.5 853.8,65.5 860.2,61.3 870.7,57.1 876,45.5 881.3,41.2 891.9,37 898.2,41.2 903.5,46.5 913,48.6 921.5,55 927.8,61.3 935.2,63.4"/>
<polyline stroke="#b3b3b3" points="153.4,747.3 161.2,740.9 169,731.9 173.8,729.8 176.8,721.9 184.7,706 190.7,693.9 192.8,681.7 195.5,666.9 200.7,662.7 205,660.6 207.1,640.3 213.4,624.4 219.8,611.7 226.1,602.2 232.5,589.5 238.8,576.8 248.3,570.5 254.7,561 261,545.1 270.5,526.1 276.8,526.1 281.6,535.6 289.5,529.3 299,522.9 308.6,516.6 314.9,507.1 322.8,499.2 324.4,484.9 327.6,488.1 335.5,494.4 340.3,488.1 348.2,489.6 357.7,470.6 365.6,475.4 372,457.9 376.1,472.2 379.9,450 384.7,399.8 391,393.4 400.5,398.2 406.3,385.4 415.9,369.6 425.4,363.2 434.9,356.9 444.4,344.2 453.9,334.7 463.4,331.5 471.4,309.3 477.7,296.6 484,283.9 488.8,272.8 495.1,271.2 501.5,268.1 509.4,264.9 512.6,258.6 518.9,271.2 526.8,272.8 533.2,264.9 537.9,255.4 545.9,252.2 550.6,239.5 555.4,236.4 561.7,231.6 571.2,228.4 574.4,239.5 580.8,245.9 587.1,230 593.4,226.8 598.2,236.4 603,225.3 609.3,207.8 615.6,192 622,187.2 628.3,182.5 636.3,177.7 644.2,174.5 653.7,168.2 660,166.6 663.2,177.7 669.6,160.3 672.7,147.6 675.9,166.6 680.7,155.5 685.4,150.7 694.9,149.2 700,147.6 701.7,139.5 711.2,139.5 720.8,137.9 728.7,136.4 731.9,120.5 736.6,104.7 743,95.1 746,98.3 752.3,99.4 758.7,81.4 764,79.3 772.4,79.3 777.7,89.9 785.1,90.9 793.6,102.5 799.9,90.9 806.3,90.9 813.7,87.7 818.9,70.8 826.3,65.5 834.8,59.2 839,62.4 849.6,59.2 860.2,55 866.5,49.7 872.8,53.9 881.3,49.7 891.9,52.9 902.4,56 907.7,50.7 913,67.7 917.2,75.1 919.4,83.5 922.5,75.1 927.8,65.5 935.2,63.4"/>
<polyline stroke="#2f4b9f" points="153.4,747.3 161.2,710.3 164.3,705 169,702.9 172.7,682.8 176.4,677 180.7,665.9 184.7,652.6 187,652.1 188.1,650 191.2,646.6 200.7,643.4 207.1,637.1 216.6,627.6 222.9,611.7 229.3,605.4 238.8,592.7 245.1,576.8 251.5,561 256.2,545.1 259.4,510.3 264.2,500.7 270.5,494.4 275.3,502.3 283.2,497.6 289.5,491.2 294.3,481.7 299,472.2 308.6,462.7 318.1,454.8 321.2,445.8 327.6,444.2 337.1,437.8 340.3,428.3 346.6,425.2 353,414.1 359.3,412.5 365.6,415.6 372,399.8 378.3,393.4 387.8,387.1 397.4,371.2 400,372.7 403.2,341 407.9,322 414.3,306.1 419,296.6 425.4,287.1 431.7,274.4 439.6,272.8 447.6,264.9 452.3,261.7 458.7,266.5 465,257 471.4,249 477.7,242.7 485.6,237.9 492,237.9 498.3,239.5 504.7,230 512.6,225.3 518.9,217.3 522.1,207.8 525.3,179.3 531.6,176.1 537.9,171.4 544.3,155.5 550.6,139.6 555.4,141.2 561.7,136.5 569.7,133.3 576,128.5 582.3,122.2 587.1,100 592.3,82.5 598.7,69.8 605,66.6 611.4,65 617.7,55.5 622.5,53.9 627.2,46 635.1,34.9 641.5,28.5 646.2,27 651,19 657.3,27 663.7,31.7 670,36.5 676.4,25.4 682.7,25.4 692.2,31.7 701.7,33.3 711.2,36.5 720.8,41.2 727.1,41.2 738.2,50.7 746,42.3 757.6,37 766.1,28.5 773.5,46.5 781.9,67.7 785.1,62.4 789.3,62.4 796.7,44.4 806.3,34.9 813.7,51.8 820,51.8 827.4,51.8 836.9,45.5 843.3,46.5 847.5,49.7 864.4,44.4 877.1,40.2 889.8,37 895,21.1 901.4,28.5 910.9,46.5 919.4,62.4 925.7,63.4 935.2,63.4"/>
<polyline stroke="#f6a11c" points="153.4,747.3 161.6,746.7 165.9,733 168.5,724 176.8,696.5 181.7,681.7 187,671.1 190.7,664.8 193.3,664.3 198.6,661.6 202.9,654.2 205,650 208.7,637.1 218.2,637.1 222.9,589.5 227.7,586.4 234,568.9 243.6,568.9 251.5,557.8 257.8,545.1 265.8,542 272.1,526.1 276.8,522.9 283.2,513.4 286.4,480.1 291.1,481.7 295.9,491.2 300.6,511.8 305.4,503.9 308.6,508.7 314.9,497.6 321.2,481.7 322.8,453.2 327.6,422 330.8,403 337.1,401.4 343.4,404.5 349.8,393.4 356.1,383.9 365.6,376 372,377.6 378.3,372.8 384.7,366.5 392.6,355.4 398.9,339.5 400,318.8 404.8,303 409.5,280.8 412.7,264.9 415.9,271.2 420.6,252.2 427,242.7 431.7,226.8 438.1,220.5 444.4,217.3 450.7,214.2 455.5,201.5 460.3,206.2 466.6,203.1 474.5,206.2 480.9,209.4 485.6,185.6 490.4,195.1 495.1,209.4 501.5,223.7 506.2,226.8 511,239.5 517.3,236.4 525.3,237.9 530,207.8 534.8,226.8 539.5,233.2 547.5,233.2 553.8,222.1 558.6,217.3 564.9,211 569.7,201.5 576,195.1 580.8,188.8 583.9,158.7 590.3,155.5 598.2,153.9 604.5,144.4 610.9,149.2 617.2,134.9 623.6,131.7 628.3,120.6 633.1,131.7 639.4,130.1 644.2,115.9 647.4,125.4 653.7,123.8 656.9,114.3 661.6,114.3 668,123.8 675.9,125.4 683.8,122.2 691.8,119 700,107.9 704.9,82.5 711.2,82.5 717.6,79.3 727.1,76.1 736.6,74.5 746,72.9 765,68.7 770.3,60.3 777.7,56 784.1,53.9 796.7,51.8 809.4,49.7 817.9,31.7 826.3,29.6 833.7,29.6 838,25.4 842.2,32.8 845.4,31.7 849.6,39.1 858.1,35.9 868.6,28.5 872.8,27.5 881.3,30.7 889.8,33.8 895,32.8 903.5,46.5 910.9,43.3 915.1,53.9 921.5,50.7 926.8,53.9 935.2,63.4"/>
<polyline stroke="#e21f2d" points="153.4,747.3 161.2,722.9 165.9,717.7 169,713.4 171.1,684.9 172.7,671.1 179.6,660.6 186.5,650 188.1,649.8 191.2,633.9 192.8,611.7 202.3,610.1 207.1,621.2 213.4,599 218.2,589.5 224.5,583.2 229.3,576.8 234,557.8 242,559.4 248.3,551.5 254.7,545.1 261,538.8 270.5,526.1 276.8,513.4 283.2,510.3 289.5,500.7 295.9,494.4 302.2,472.2 308.6,469 318.1,456.3 327.6,441 340.3,434.7 353,428.3 359.3,422 368.8,396.6 372,380.8 378.3,387.1 387.8,382.3 394.2,371.2 400,360 406.3,350.5 412.7,328.3 419,306.1 425.4,303 431.7,309.3 439.6,304.5 447.6,299.8 453.9,296.6 458.7,287.1 463.4,283.9 466.6,290.3 471.4,287.1 477.7,291.9 484,287.1 490.4,283.9 498.3,280.8 504.7,277.6 511,271.2 514.2,252.2 518.9,249 525.3,242.7 533.2,233.2 541.1,226.8 549,220.5 555.4,214.2 561.7,201.5 566.5,192 571.2,195.1 576,198.3 583.9,188.8 588.7,193.6 595,185.6 599.8,176.1 606.1,166.6 610.9,176.1 618.8,172.9 625.2,166.6 628.3,161.8 633.1,168.2 637.8,161.8 644.2,163.4 650.5,158.7 656.9,161.8 661.6,157.1 664.8,161.8 669.6,150.7 674.3,157.1 679.1,136.5 685.4,128.5 691.8,119 700,112.7 708.1,109.4 717.6,103.1 723.9,98.3 727.1,101.5 731.9,96.7 736.6,96.7 743,93.6 746,88.8 756.6,81.4 762.9,90.9 772.4,103.6 781.9,115.2 791.5,115.2 799.9,109.9 806.3,113.1 809.4,103.6 815.8,111 826.3,109.9 830.6,124.7 839,118.4 849.6,112.1 853.8,99.4 858.1,97.3 861.2,101.5 867.6,90.9 872.8,86.7 881.3,84.6 886.6,81.4 891.9,74 896.1,71.9 900.3,65.5 908.8,64.5 913,71.9 919.4,71.9 925.7,66.6 935.2,63.4"/>
<polyline stroke="#0d8a42" points="153.4,747.3 157.4,734.6 160.6,697.6 163.7,678.5 165.9,672.2 169,669.2 172.7,668 175.9,656.3 177.7,650 180.1,618.1 184.9,599 191.2,589.5 197.6,576.8 200.7,572.1 203.9,576.8 210.3,580.7 227.7,580 230.9,561 242,561 243.6,513.4 248.3,477 254.7,473.4 262.6,469.6 267.3,456.9 272.1,437.8 280,436.3 289.5,431.5 297.5,422 302.2,396.6 307,409.3 311.7,436.3 318.1,422 324.4,406.1 329.2,383.9 333.9,379.2 338.7,390.3 345,358.6 353,349 359.3,336.4 365.6,339.5 375.2,331.6 384.7,341.1 394.2,336.4 400,328.3 404.8,322 414.3,318.8 423.8,315.6 430.1,306.1 436.5,312.5 444.4,291.9 450.7,291.9 457.1,282.3 463.4,277.6 468.2,283.9 474.5,274.4 479.3,252.2 487.2,249 493.6,237.9 499.9,249 504.7,264.9 507.8,272.8 512.6,280.8 517.3,287.1 525.3,280.8 533.2,280.8 542.7,280.8 550.6,277.6 558.6,264.9 564.9,255.4 572.8,257 579.2,247.5 583.9,236.4 587.1,207.8 591.9,233.2 598.2,225.3 604.5,230 610.9,220.5 615.6,236.4 622,239.5 628.3,237.9 631.5,244.3 636.3,233.2 644.2,234.8 653.7,214.2 663.2,201.5 672.7,199.9 685.4,198.3 700,196.7 704.9,191.9 711.2,201.4 720.8,206.1 727.1,193.4 733.4,180.8 743,177.6 746,175.5 750.2,174.4 754.5,166 760.8,155.4 766.1,158.6 772.4,155.4 777.7,159.6 785.1,145.9 791.5,152.2 797.8,158.6 802,150.1 813.7,152.2 817.9,143.8 830.6,144.8 843.3,145.9 846.4,132.1 849.6,114.2 853.8,113.1 866.5,106.8 871.8,103.6 883.4,100.4 889.8,90.9 900.3,88.8 908.8,86.7 915.1,83.5 921.5,79.3 927.8,71.9 935.2,64.5"/>
<polyline stroke="#6c0f4d" points="153.4,747.3 160.6,722.4 165.9,717.1 169.6,715 176.8,695.5 180.7,678.5 184.7,670.1 189.1,658.5 191.8,650 194.4,646.6 200.7,627.6 207.1,622.8 213.4,602.2 219.8,586.4 226.1,583.2 230.9,564.2 242,561 245.1,542 249.9,519.8 257.8,516.6 270.5,515 278.4,508.7 283.2,516.6 287.9,510.3 291.1,521.4 299,519.8 308.6,513.4 314.9,488.1 322.8,484.9 324.4,450 327.6,434.7 333.9,431.5 340.3,422 343.4,406.1 348.2,437.8 356.1,422 365.6,418.8 372,399.8 381.5,387.1 387.8,374.4 394.2,372.8 400.5,364.9 404.8,360 411.1,371.1 417.4,353.7 423.8,360 430.1,375.9 438.1,369.6 442.8,347.4 447.6,322 452.3,317.2 458.7,315.6 465,309.3 468.2,280.8 471.4,287.1 476.1,293.4 482.5,290.3 488.8,288.7 495.1,301.4 501.5,287.1 507.8,276 514.2,271.2 520.5,274.4 526.8,272.8 533.2,271.2 539.5,264.9 545.9,266.5 553.8,272.8 560.1,264.9 566.5,276 572.8,272.8 577.6,255.4 583.9,245.9 590.3,244.3 596.6,241.1 603,234.8 609.3,233.2 618.8,225.3 625.2,214.2 631.5,212.6 637.8,214.2 644.2,204.7 650.5,195.1 655.3,199.9 660,192 669.6,193.6 679.1,195.1 683.8,180.9 691.8,179.3 700,166.6 703.3,177.6 711.2,176 719.2,179.2 725.5,171.2 731.9,168.1 738.2,161.7 744.5,155.4 746,154.3 756.6,131.1 762.9,126.8 772.4,125.8 781.9,124.7 789.3,124.7 795.7,126.8 802,121.6 806.3,115.2 811.5,107.8 817.9,105.7 826.3,96.2 831.6,96.2 839,99.4 842.2,112.1 847.5,109.9 853.8,98.3 860.2,98.3 866.5,90.9 871.8,88.8 877.1,84.6 883.4,79.3 894,71.9 896.1,61.3 902.4,59.2 908.8,60.3 913,55 919.4,47.6 923.6,42.3 927.8,57.1 935.2,63.4"/>
<polyline stroke="#f6a5bd" points="153.4,747.3 160.6,726.6 165.9,722.9 171.1,713.4 176.8,705 181.7,697.6 184.7,688.1 192.3,673.8 199.7,670.6 202.9,671.7 207.1,656.3 211.3,651.1 213.4,624.4 219.8,618.1 226.1,599 232.5,591.1 238.8,589.5 245.1,583.2 249.9,587.9 254.7,570.5 261,551.5 267.3,535.6 270.5,526.1 276.8,532.5 283.2,526.1 289.5,522.9 294.3,502.3 302.2,497.6 308.6,492.8 313.3,478.5 318.1,462.7 322.8,453.2 330.8,444.2 340.3,441 349.8,436.3 359.3,437.8 368.8,428.3 378.3,415.6 384.7,380.8 394.2,383.9 400,369.6 406.3,353.7 412.7,356.9 419,360 425.4,379.1 431.7,377.5 441.2,372.7 450.7,366.4 458.7,363.2 465,363.2 472.9,369.6 482.5,377.5 490.4,366.4 495.1,360 499.9,361.6 507.8,347.4 514.2,344.2 520.5,339.4 526.8,341 534.8,352.1 541.1,341 547.5,328.3 555.4,312.5 561.7,306.1 568.1,296.6 576,283.9 583.9,271.2 590.3,258.6 596.6,236.4 603,214.2 606.1,198.3 610.9,188.8 618.8,185.6 625.2,179.3 631.5,176.1 641,174.5 645.8,150.7 650.5,138.1 656.9,133.3 664.8,134.9 672.7,131.7 682.2,133.3 691.8,134.9 700,139.6 708.1,137.9 717.6,139.5 727.1,137.9 736.6,128.4 743,122.1 746,126.8 752.3,130 758.7,124.7 762.9,129 765,114.2 769.3,133.2 774.5,134.2 781.9,140.6 791.5,141.6 797.8,139.5 802,129 806.3,114.2 810.5,103.6 815.8,109.9 818.9,117.3 824.2,119.5 830.6,120.5 839,120.5 844.3,114.2 849.6,112.1 860.2,105.7 868.6,101.5 876,95.1 883.4,93 891.9,90.9 900.3,87.7 908.8,83.5 915.1,78.2 921.5,72.9 927.8,68.7 935.2,63.4"/>
<polyline stroke="#7cc57d" points="153.4,747.3 156.9,741.4 159.5,709.2 161.1,681.7 164.8,662.2 177,654.8 182.8,650 191.2,643.4 197.6,637.1 202.3,630.8 205.5,602.2 208.7,583.2 216.6,576.8 222.9,573.7 227.7,580 230.9,567.3 234,545.1 238.8,526.1 245.1,488.1 251.5,491.2 256.2,499.2 268.9,484.9 273.7,481.7 278.4,459.5 283.2,451.6 289.5,445.8 295.9,469.6 302.2,466.4 311.7,450.5 318.1,434.7 322.8,431.5 330.8,409.3 337.1,387.1 340.3,374.4 348.2,352.2 353,342.7 359.3,331.6 368.8,328.4 375.2,320.5 383.1,317.3 391,320.5 400.5,330 403.2,350.5 409.5,353.7 419,348.9 431.7,341 444.4,334.7 453.9,325.2 457.1,334.7 463.4,322 476.1,318.8 480.9,296.6 487.2,290.3 492,271.2 496.7,272.8 501.5,280.8 506.2,252.2 512.6,247.5 518.9,242.7 525.3,239.5 533.2,231.6 541.1,225.3 549,218.9 555.4,212.6 561.7,207.8 571.2,199.9 579.2,193.6 585.5,187.2 590.3,185.6 596.6,172.9 603,157.1 609.3,150.7 615.6,149.2 622,134.9 626.7,125.4 631.5,119 636.3,127 644.2,125.4 653.7,123.8 658.5,114.3 664.8,112.7 671.1,106.3 679.1,104.8 683.8,100 689,104.7 693.8,114.2 698.6,126.8 704.9,133.2 712.8,139.5 719.2,145.9 722.3,155.4 727.1,149 733.4,147.5 739.8,152.2 746,145.9 752.3,137.4 759.7,129 762.9,137.4 769.3,148 777.7,145.9 784.1,143.8 791.5,145.9 797.8,143.8 806.3,135.3 815.8,127.9 824.2,121.6 829.5,117.3 834.8,106.8 840.1,105.7 845.4,107.8 849.6,112.1 853.8,116.3 866.5,113.1 870.7,103.6 877.1,93 883.4,94.1 891.9,92 900.3,89.9 908.8,85.6 915.1,83.5 921.5,79.3 927.8,71.9 935.2,64.5"/>
<polyline stroke="#5cc5ee" points="153.4,747.3 160.6,743 165.9,734.6 173.8,733 176.8,727.2 184.7,714.5 190.7,706 194.4,702.9 194.9,681.7 195.7,650 199.2,583.2 202.3,580 208.7,580 215,572.1 219.8,554.7 222.9,545.1 230.9,542 237.2,526.1 242,516.6 245.1,491.2 248.3,479.1 254.7,472.7 262.6,472.7 268.9,460 275.3,437.8 280,418.8 284.8,403 291.1,387.1 297.5,358.6 302.2,349 308.6,336.4 314.9,358.6 322.8,330 332.3,325.3 337.1,320.5 343.4,314.2 353,311 359.3,304.7 368.8,292 376.7,279.3 384.7,292 392.6,285.6 400.5,263.4 404.8,239.5 411.1,223.7 417.4,207.8 423.8,195.1 430.1,192 436.5,182.5 442.8,176.1 449.2,165 453.9,192 458.7,163.4 465,155.5 468.2,139.6 474.5,144.4 480.9,139.6 487.2,157.1 496.7,153.9 506.2,165 511,157.1 518.9,155.5 522.1,144.4 528.4,146 533.2,142.8 536.4,163.4 537.9,217.3 541.1,226.8 547.5,233.2 555.4,236.4 563.3,234.8 571.2,228.4 577.6,226.8 583.9,222.1 588.7,218.9 596.6,220.5 606.1,215.8 612.5,209.4 618.8,198.3 628.3,196.7 637.8,195.1 645.8,192 653.7,179.3 658.5,165 664.8,168.2 669.6,158.7 674.3,152.3 679.1,158.7 682.2,141.2 687,136.5 691.8,142.8 696.5,146 700,144.4 703.3,147.5 708.1,150.6 712.8,161.7 716,174.4 720.8,158.6 725.5,149 731.9,147.5 736.6,155.4 741.4,166.5 746,163.8 752.3,155.4 756.6,156.4 762.9,145.9 769.3,145.9 777.7,143.8 784.1,141.6 793.6,151.2 798.9,131.1 804.1,120.5 809.4,117.3 816.8,114.2 822.1,99.4 827.4,84.6 839,81.4 849.6,79.3 855.9,60.3 864.4,62.4 871.8,61.3 877.1,59.2 883.4,63.4 889.8,68.7 895,74 900.3,76.1 906.7,72.9 915.1,72.9 921.5,67.7 927.8,64.5 935.2,63.4"/>
</g>
<g id="axes" stroke="#000" stroke-width="2" fill="none" stroke-linecap="butt">
<rect x="153.3" y="1.0" width="782.7" height="1495.9"/>
<line x1="153.3" y1="748.0" x2="936.0" y2="748.0"/>
<path d="M231.6,1.0v11M231.6,748.0v-11M231.6,748.0v11M231.6,1496.9v-11M309.8,1.0v22.5M309.8,748.0v-22.5M309.8,748.0v22.5M309.8,1496.9v-22.5M388.1,1.0v11M388.1,748.0v-11M388.1,748.0v11M388.1,1496.9v-11M466.4,1.0v22.5M466.4,748.0v-22.5M466.4,748.0v22.5M466.4,1496.9v-22.5M544.7,1.0v11M544.7,748.0v-11M544.7,748.0v11M544.7,1496.9v-11M622.9,1.0v22.5M622.9,748.0v-22.5M622.9,748.0v22.5M622.9,1496.9v-22.5M701.2,1.0v11M701.2,748.0v-11M701.2,748.0v11M701.2,1496.9v-11M779.5,1.0v22.5M779.5,748.0v-22.5M779.5,748.0v22.5M779.5,1496.9v-22.5M857.7,1.0v11M857.7,748.0v-11M857.7,748.0v11M857.7,1496.9v-11M153.3,687.6h11M936.0,687.6h-11M153.3,1437h11M936.0,1437h-11M153.3,627.8h11M936.0,627.8h-11M153.3,1377.1h11M936.0,1377.1h-11M153.3,568.1h11M936.0,568.1h-11M153.3,1317.2h11M936.0,1317.2h-11M153.3,508.4h11M936.0,508.4h-11M153.3,1257.3h11M936.0,1257.3h-11M153.3,448.6h22.5M936.0,448.6h-22.5M153.3,1197.4h22.5M936.0,1197.4h-22.5M153.3,388.9h11M936.0,388.9h-11M153.3,1137.5h11M936.0,1137.5h-11M153.3,329.2h11M936.0,329.2h-11M153.3,1077.6h11M936.0,1077.6h-11M153.3,269.5h11M936.0,269.5h-11M153.3,1017.7h11M936.0,1017.7h-11M153.3,209.7h11M936.0,209.7h-11M153.3,957.8h11M936.0,957.8h-11M153.3,150h22.5M936.0,150h-22.5M153.3,897.9h22.5M936.0,897.9h-22.5M153.3,90.3h11M936.0,90.3h-11M153.3,838h11M936.0,838h-11M153.3,30.5h11M936.0,30.5h-11M153.3,778.1h11M936.0,778.1h-11"/>
</g>
<g id="labels" font-family="Liberation Sans, Arial, Helvetica, sans-serif" fill="#000" font-size="36" style="font-kerning:none;text-rendering:geometricPrecision">
<text x="138" y="760.2" text-anchor="end">0</text>
<text x="138" y="461.5" text-anchor="end">50</text>
<text x="138" y="162.9" text-anchor="end">100</text>
<text x="138" y="1509.8" text-anchor="end">0</text>
<text x="138" y="1210.3" text-anchor="end">50</text>
<text x="138" y="910.8" text-anchor="end">100</text>
<text x="153.3" y="1539.5" text-anchor="middle">0</text>
<text x="309.8" y="1539.5" text-anchor="middle">0.2</text>
<text x="466.4" y="1539.5" text-anchor="middle">0.4</text>
<text x="622.9" y="1539.5" text-anchor="middle">0.6</text>
<text x="779.5" y="1539.5" text-anchor="middle">0.8</text>
<text x="936.5" y="1539.5" text-anchor="middle">1</text>
<text x="231" y="1591" font-size="36.5">Proportion of fish species remaining, <tspan font-family="Liberation Serif, Times New Roman, serif" font-style="italic">Φ</tspan></text>
<text transform="translate(47.2,1087.8) rotate(-90)" font-size="36.5">Total biomass production <tspan font-style="italic">P</tspan> (g m<tspan font-size="24" dy="-17">−2</tspan><tspan dy="17"> year</tspan><tspan font-size="24" dy="-17">−1</tspan><tspan dy="17">)</tspan></text>
<text x="218.5" y="105" font-weight="bold" font-size="52.5">a</text>
<text x="220.5" y="867.5" font-weight="bold" font-size="52.5">b</text>
</g>
<g id="legend" font-family="Liberation Sans, Arial, Helvetica, sans-serif" font-size="31.5" fill="#000" style="font-kerning:none;text-rendering:geometricPrecision">
<line x1="401.5" x2="478.5" y1="1281" y2="1281" stroke="#000" stroke-width="2.1"/>
<line x1="401.5" x2="478.5" y1="1316.4" y2="1316.4" stroke="#f6a11c" stroke-width="4.2"/>
<line x1="401.5" x2="478.5" y1="1351.2" y2="1351.2" stroke="#5cc6f0" stroke-width="4.4" stroke-dasharray="35.5 15"/>
<line x1="401.5" x2="478.5" y1="1386.5" y2="1386.5" stroke="#3553a4" stroke-width="4.4" stroke-dasharray="35.5 15"/>
<text x="492.3" y="1290.8">Point-wise means</text>
<text x="492.3" y="1326.2">LOESS smooth</text>
<text x="492.3" y="1361">Michaelis–Menten fit</text>
<text x="492.3" y="1396.3">Power-law fit</text>
</g>
</svg>
</body></html>
